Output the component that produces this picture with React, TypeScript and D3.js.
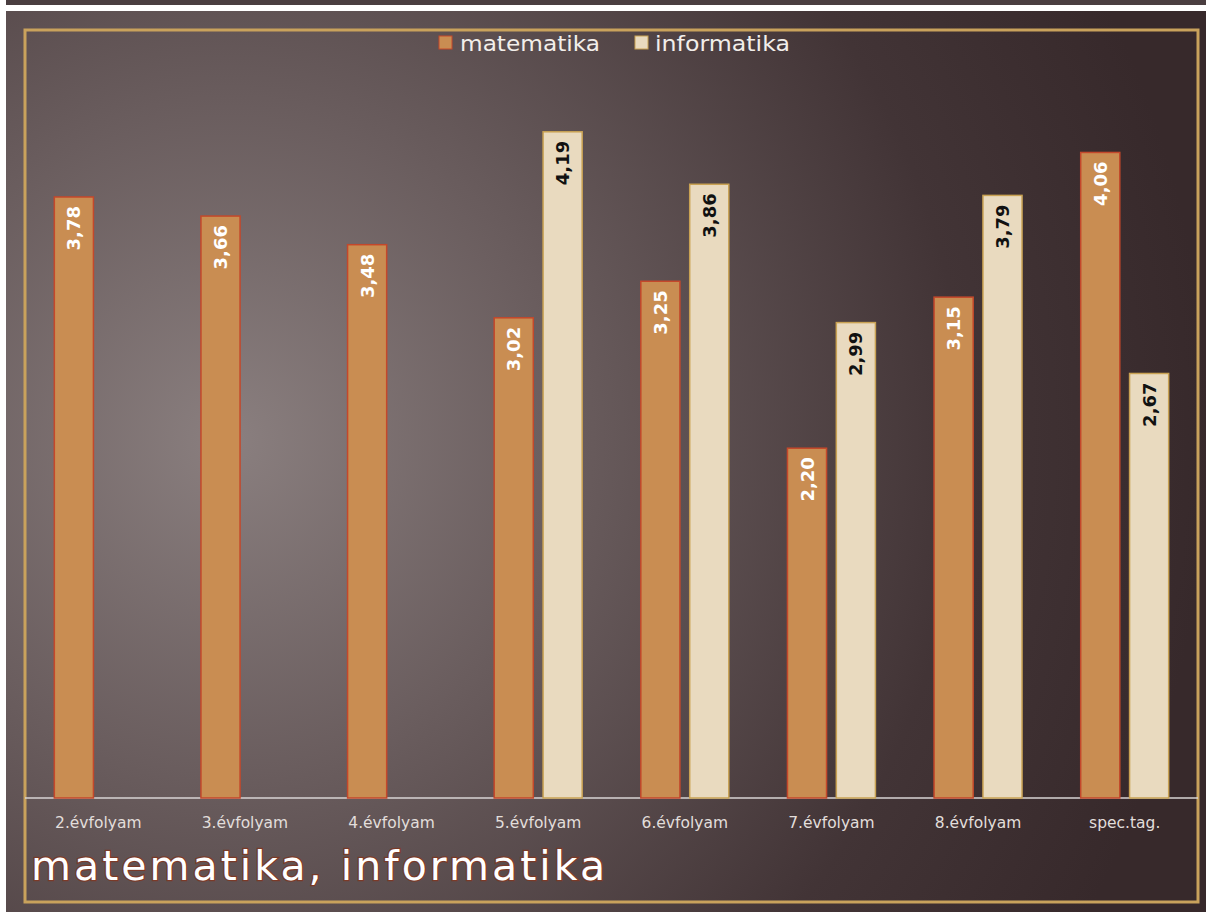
import React from "react";
import * as d3 from "d3";

const categories = ["2.évfolyam", "3.évfolyam", "4.évfolyam", "5.évfolyam", "6.évfolyam", "7.évfolyam", "8.évfolyam", "spec.tag."];
const matematika: (number | null)[] = [3.78, 3.66, 3.48, 3.02, 3.25, 2.2, 3.15, 4.06];
const informatika: (number | null)[] = [null, null, null, 4.19, 3.86, 2.99, 3.79, 2.67];
const seriesNames = ["matematika", "informatika"];
const title = "matematika, informatika";

const W = 1206;
const H = 912;

export default function App() {
  const frame = { x: 25, y: 30, w: 1173, h: 872 };
  const baseline = 798;
  const x0 = d3.scaleBand<string>().domain(categories).range([frame.x, frame.x + frame.w]).paddingInner(0.4).paddingOuter(0.2);
  const x1 = d3.scaleBand<string>().domain(seriesNames).range([0, x0.bandwidth()]).paddingInner(0.2);
  const y = d3.scaleLinear().domain([0, 5]).range([baseline, baseline - 5 * 159]);
  const fmt = (v: number) => d3.format(".2f")(v).replace(".", ",");

  const series = [
    { name: seriesNames[0], values: matematika, fill: "#c98d52", stroke: "#c4482b", text: "#ffffff" },
    { name: seriesNames[1], values: informatika, fill: "#e9dabf", stroke: "#c9a253", text: "#111111" },
  ];

  const font = "'DejaVu Sans', Lato, sans-serif";

  return (
    <svg width={W} height={H} style={{ position: "absolute", left: 0, top: 0 }}>
      <defs>
        <radialGradient id="bg" cx="230" cy="440" r="980" gradientUnits="userSpaceOnUse">
          <stop offset="0" stopColor="#8a7f7f" />
          <stop offset="0.35" stopColor="#695c5d" />
          <stop offset="0.75" stopColor="#423436" />
          <stop offset="1" stopColor="#37292b" />
        </radialGradient>
      </defs>
      <rect x={0} y={0} width={W} height={H} fill="#ffffff" />
      <rect x={6} y={0} width={W - 6} height={5} fill="#4a3e40" />
      <rect x={6} y={11} width={W - 6} height={H - 11} fill="url(#bg)" />
      {/* frame */}
      <rect x={frame.x} y={frame.y} width={frame.w} height={frame.h} fill="none" stroke="#c9a25c" strokeWidth={3} />
      {/* baseline */}
      <line x1={frame.x} x2={frame.x + frame.w} y1={baseline} y2={baseline} stroke="#d8d4d4" strokeWidth={1.5} />
      {/* bars */}
      {series.map((s) =>
        categories.map((c, i) => {
          const v = s.values[i];
          if (v == null) return null;
          const bx = (x0(c) as number) + (x1(s.name) as number);
          const bw = x1.bandwidth();
          const top = y(v);
          const cx = bx + bw / 2;
          return (
            <g key={s.name + c}>
              <rect x={bx} y={top} width={bw} height={baseline - top} fill={s.fill} stroke={s.stroke} strokeWidth={1.5} />
              <text
                transform={`translate(${cx + 6.5},${top + 9}) rotate(-90)`}
                textAnchor="end"
                fontFamily={font}
                fontWeight="bold"
                fontSize={18}
                fill={s.text}
              >
                {fmt(v)}
              </text>
            </g>
          );
        })
      )}
      {/* category labels */}
      {categories.map((c) => (
        <text key={c} x={(x0(c) as number) + x0.bandwidth() / 2} y={828} textAnchor="middle" fontFamily={font} fontSize={15.5} fill="#e2dedb">
          {c}
        </text>
      ))}
      {/* legend */}
      <g fontFamily={font} fontSize={22} fill="#f2eeea">
        <rect x={439} y={36} width={13} height={13} fill={series[0].fill} stroke={series[0].stroke} strokeWidth={1} />
        <text x={460} y={51} textLength={140} lengthAdjust="spacingAndGlyphs">{seriesNames[0]}</text>
        <rect x={635} y={36} width={13} height={13} fill={series[1].fill} stroke={series[1].stroke} strokeWidth={1} />
        <text x={655} y={51} textLength={135} lengthAdjust="spacingAndGlyphs">{seriesNames[1]}</text>
      </g>
      {/* title */}
      <text
        x={31}
        y={880}
        fontFamily={font}
        fontSize={41}
        fill="#ffffff"
        stroke="#7a3a28"
        strokeWidth={2.5}
        paintOrder="stroke"
        textLength={574}
        lengthAdjust="spacing"
      >
        {title}
      </text>
    </svg>
  );
}
